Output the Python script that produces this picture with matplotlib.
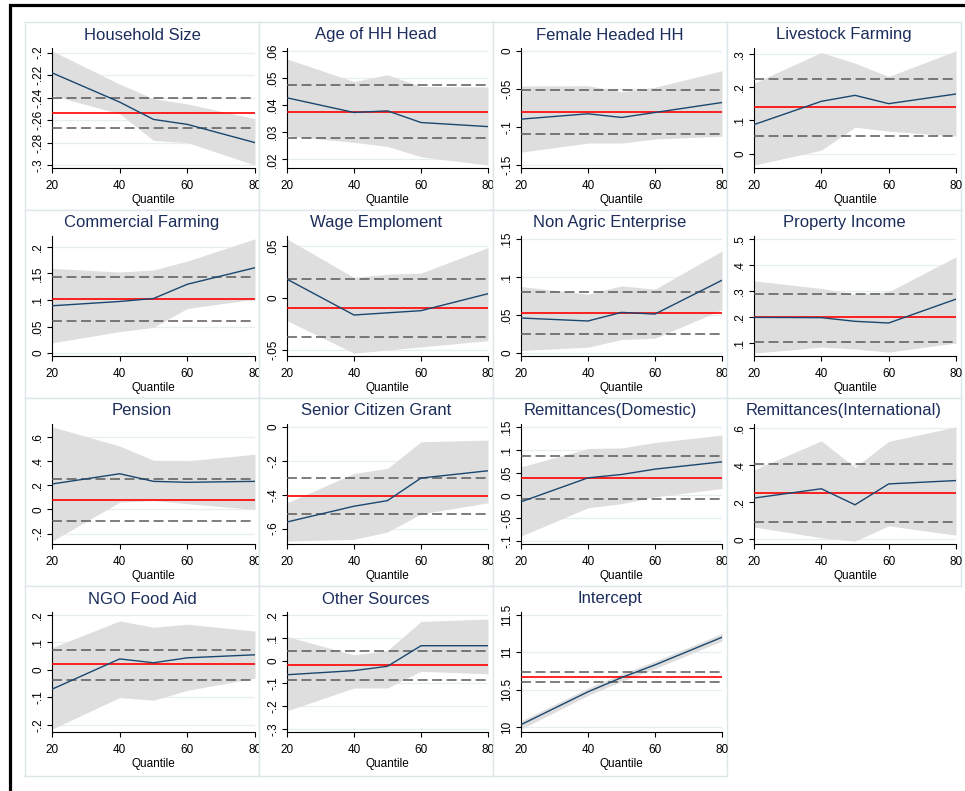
import matplotlib
matplotlib.use("Agg")
import matplotlib.pyplot as plt
from matplotlib.patches import Rectangle

plt.rcParams['font.family'] = ['Liberation Sans', 'DejaVu Sans']

# ============================================================
#  data
# ============================================================
quantiles = [20, 40, 50, 60, 80]

titles = ["Household Size", "Age of HH Head", "Female Headed HH", "Livestock Farming",
          "Commercial Farming", "Wage Emploment", "Non Agric Enterprise", "Property Income",
          "Pension", "Senior Citizen Grant", "Remittances(Domestic)", "Remittances(International)",
          "NGO Food Aid", "Other Sources", "Intercept"]

coef = [
    [-0.218, -0.244, -0.2594, -0.2638, -0.280],
    [0.0427, 0.0373, 0.0379, 0.0336, 0.0321],
    [-0.0896, -0.0826, -0.0874, -0.0809, -0.0678],
    [0.0877, 0.1575, 0.1755, 0.1505, 0.1795],
    [0.0891, 0.0972, 0.1028, 0.1296, 0.1607],
    [0.0182, -0.0163, -0.0142, -0.0121, 0.0042],
    [0.0461, 0.0422, 0.0535, 0.0513, 0.0957],
    [0.199, 0.198, 0.184, 0.1775, 0.269],
    [0.211, 0.296, 0.233, 0.225, 0.233],
    [-0.561, -0.468, -0.435, -0.302, -0.259],
    [-0.014, 0.0385, 0.0458, 0.0575, 0.0735],
    [0.222, 0.272, 0.186, 0.298, 0.316],
    [-0.070, 0.040, 0.026, 0.044, 0.055],
    [-0.062, -0.044, -0.025, 0.065, 0.065],
    [10.03, 10.47, 10.66, 10.83, 11.20],
]

ci_upper = [
    [-0.1985, -0.228, -0.241, -0.2456, -0.2588],
    [0.057, 0.0487, 0.0512, 0.0469, 0.0467],
    [-0.0461, -0.0457, -0.0535, -0.0478, -0.0261],
    [0.2124, 0.304, 0.272, 0.232, 0.309],
    [0.1595, 0.1526, 0.1564, 0.1732, 0.215],
    [0.057, 0.0198, 0.023, 0.024, 0.0486],
    [0.0874, 0.0774, 0.0883, 0.0839, 0.134],
    [0.339, 0.310, 0.288, 0.297, 0.431],
    [0.685, 0.526, 0.408, 0.403, 0.458],
    [-0.448, -0.275, -0.245, -0.088, -0.078],
    [0.0625, 0.1026, 0.104, 0.1157, 0.132],
    [0.373, 0.529, 0.387, 0.526, 0.604],
    [0.081, 0.178, 0.155, 0.166, 0.141],
    [0.105, 0.025, 0.044, 0.171, 0.182],
    [10.08, 10.52, 10.71, 10.88, 11.25],
]

ci_lower = [
    [-0.238, -0.2544, -0.278, -0.280, -0.300],
    [0.0287, 0.0263, 0.0248, 0.0210, 0.0179],
    [-0.133, -0.121, -0.121, -0.1157, -0.112],
    [-0.034, 0.011, 0.080, 0.068, 0.053],
    [0.0193, 0.0405, 0.0486, 0.0841, 0.1016],
    [-0.0217, -0.053, -0.050, -0.047, -0.041],
    [0.0035, 0.0078, 0.0178, 0.0196, 0.057],
    [0.062, 0.085, 0.078, 0.066, 0.101],
    [-0.263, 0.060, 0.074, 0.047, 0.0],
    [-0.674, -0.663, -0.620, -0.513, -0.448],
    [-0.089, -0.027, -0.018, -0.003, 0.0152],
    [0.067, 0.009, -0.009, 0.073, 0.023],
    [-0.215, -0.100, -0.110, -0.074, -0.030],
    [-0.220, -0.120, -0.120, -0.047, -0.058],
    [9.97, 10.42, 10.61, 10.78, 11.15],
]

# OLS estimate and its confidence interval
ols = [-0.2538, 0.0376, -0.080, 0.1396, 0.1016, -0.0093, 0.0526, 0.199,
       0.077, -0.409, 0.0378, 0.249, 0.022, -0.018, 10.67]
ols_hi = [-0.2403, 0.0475, -0.0513, 0.2233, 0.1427, 0.0185, 0.0804, 0.288,
          0.252, -0.302, 0.0859, 0.405, 0.074, 0.044, 10.74]
ols_lo = [-0.2668, 0.0279, -0.1087, 0.0548, 0.0604, -0.037, 0.0248, 0.106,
          -0.099, -0.516, -0.0089, 0.094, -0.037, -0.084, 10.60]

yticks = [
    [-0.3, -0.28, -0.26, -0.24, -0.22, -0.2],
    [0.02, 0.03, 0.04, 0.05, 0.06],
    [-0.15, -0.1, -0.05, 0],
    [0, 0.1, 0.2, 0.3],
    [0, 0.05, 0.1, 0.15, 0.2],
    [-0.05, 0, 0.05],
    [0, 0.05, 0.1, 0.15],
    [0.1, 0.2, 0.3, 0.4, 0.5],
    [-0.2, 0, 0.2, 0.4, 0.6],
    [-0.6, -0.4, -0.2, 0],
    [-0.1, -0.05, 0, 0.05, 0.1, 0.15],
    [0, 0.2, 0.4, 0.6],
    [-0.2, -0.1, 0, 0.1, 0.2],
    [-0.3, -0.2, -0.1, 0, 0.1, 0.2],
    [10, 10.5, 11, 11.5],
]
xticks = [20, 40, 60, 80]

# colours
TITLE_C = '#1c2d5c'
LINE_C = '#1a476f'
SHADE_C = '#dedede'
GRID_C = '#e6eef0'
BOX_C = '#dde6ea'

W, H = 965, 791


def stata_fmt(v):
    s = f"{v:g}"
    if s.startswith("0."):
        s = s[1:]
    elif s.startswith("-0."):
        s = "-" + s[2:]
    return s


def fig_rect(x0, y0, x1, y1):
    # pixel box (top-left origin) -> figure fraction
    return [x0 / W, 1 - y1 / H, (x1 - x0) / W, (y1 - y0) / H]


def main():
    fig = plt.figure(figsize=(W / 100, H / 100), dpi=100)
    fig.patch.set_facecolor('white')

    col_ax = [(52, 255), (287, 488), (521, 722), (754, 956)]
    col_box = [(25, 259), (259, 493), (493, 727), (727, 961)]
    row_step = 188

    for i, title in enumerate(titles):
        r, c = divmod(i, 4)
        # subgraph region (white fill, pale border)
        bx0, bx1 = col_box[c]
        by0 = 22 + r * row_step
        bh = row_step if r < 3 else row_step + 2
        bg = fig.add_axes(fig_rect(bx0, by0, bx1, by0 + bh))
        bg.set_xticks([]); bg.set_yticks([])
        bg.set_facecolor('white')
        for sp in bg.spines.values():
            sp.set_color(BOX_C)
            sp.set_linewidth(1.0)
        bg.text(0.5, 1 - 13 / bh, title, transform=bg.transAxes,
                ha='center', va='center', fontsize=12, color=TITLE_C)

        ax0, ax1 = col_ax[c]
        ay0 = 48 + r * row_step
        ax = fig.add_axes(fig_rect(ax0, ay0, ax1, ay0 + 120))
        ax.set_facecolor('white')

        ax.fill_between(quantiles, ci_lower[i], ci_upper[i], color=SHADE_C, lw=0, zorder=1)
        ax.plot(quantiles, coef[i], color=LINE_C, lw=1.0, zorder=4)
        ax.axhline(ols[i], color='red', lw=1.2, zorder=3)
        for v in (ols_hi[i], ols_lo[i]):
            ax.axhline(v, color='#5a5a5a', lw=1.1, ls=(0, (6.5, 3)), zorder=3)

        ticks = yticks[i]
        lo = min(min(ci_lower[i]), ticks[0])
        hi = max(max(ci_upper[i]), ticks[-1])
        pad = (hi - lo) * 0.025
        ax.set_ylim(lo - pad, hi + pad)
        ax.set_xlim(20, 80)

        ax.set_yticks(ticks)
        ax.set_yticklabels([stata_fmt(t) for t in ticks])
        ax.set_xticks(xticks)
        ax.set_xticklabels([str(t) for t in xticks])
        ax.tick_params(axis='both', labelsize=8.5, length=3.5, width=0.8, direction='out')
        ax.tick_params(axis='x', pad=5)
        ax.tick_params(axis='y', pad=2, labelrotation=90)
        for lab in ax.get_yticklabels():
            lab.set_va('center')
        ax.set_xlabel('Quantile', fontsize=8.5, labelpad=1.5)

        ax.set_axisbelow(True)
        ax.grid(axis='y', color=GRID_C, lw=0.9)
        for side in ('top', 'right'):
            ax.spines[side].set_visible(False)
        for side in ('left', 'bottom'):
            ax.spines[side].set_color('black')
            ax.spines[side].set_linewidth(0.8)

    # outer black frame
    frame = Rectangle((9.5 / W, -0.05), 1.2, 1 - 5.5 / H + 0.05, transform=fig.transFigure,
                      fill=False, edgecolor='black', lw=2.3, clip_on=False, zorder=10)
    fig.patches.append(frame)

    fig.savefig('out.png', dpi=100)


if __name__ == '__main__':
    main()
